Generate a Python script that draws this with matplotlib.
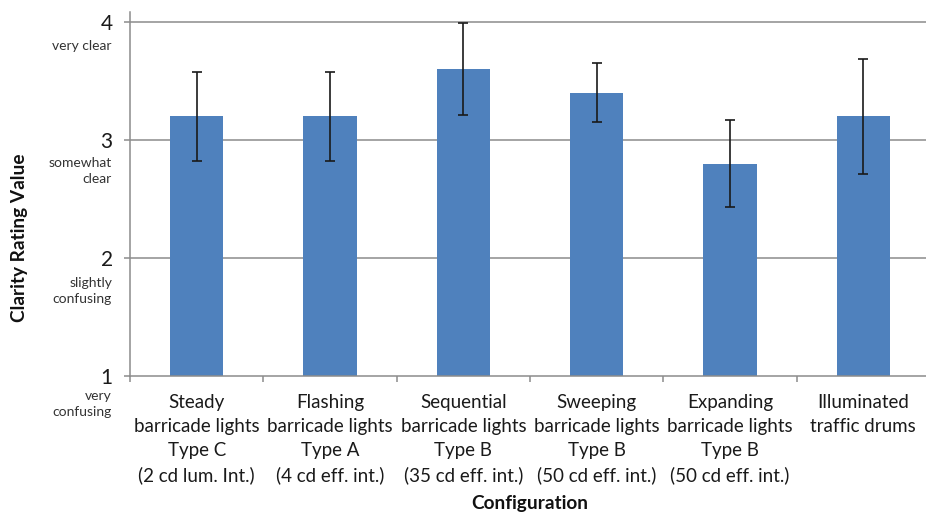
import matplotlib
matplotlib.use("Agg")
import matplotlib.pyplot as plt
import numpy as np
from matplotlib.ticker import FixedLocator

plt.rcParams['font.family'] = ['Lato', 'DejaVu Sans']

categories = [
    "Steady\nbarricade lights\nType C\n(2 cd lum. Int.)",
    "Flashing\nbarricade lights\nType A\n(4 cd eff. int.)",
    "Sequential\nbarricade lights\nType B\n(35 cd eff. int.)",
    "Sweeping\nbarricade lights\nType B\n(50 cd eff. int.)",
    "Expanding\nbarricade lights\nType B\n(50 cd eff. int.)",
    "Illuminated\ntraffic drums",
]
means = [3.2, 3.2, 3.6, 3.4, 2.8, 3.2]
errors = [0.38, 0.38, 0.39, 0.25, 0.37, 0.49]
y_ticks = [1, 2, 3, 4]
y_descriptions = ["very\nconfusing", "slightly\nconfusing", "somewhat\nclear", "very clear"]

W, H = 926, 513
fig = plt.figure(figsize=(W / 100, H / 100), dpi=100)
ax = fig.add_axes([130 / W, 1 - 376 / H, 800 / W, (376 - 12) / H])

x = np.arange(len(categories))
bar_color = "#4F81BD"
ax.bar(x, means, width=0.4, color=bar_color, zorder=2)
ax.errorbar(x, means, yerr=errors, fmt="none", ecolor="#1a1a1a",
            elinewidth=1.2, capsize=3.8, capthick=1.2, zorder=3)

ax.set_xlim(-0.5, len(categories) - 0.5)
ax.set_ylim(1, 4.085)

# horizontal gridlines
for yv in y_ticks[1:]:
    ax.axhline(yv, color="#8c8c8c", linewidth=1.1, zorder=1)

for side in ["top", "right"]:
    ax.spines[side].set_visible(False)
for side in ["left", "bottom"]:
    ax.spines[side].set_color("#8c8c8c")
    ax.spines[side].set_linewidth(1.1)

ax.set_yticks(y_ticks)
ax.set_yticklabels([str(v) for v in y_ticks], fontsize=15, color="#1a1a1a")
ax.tick_params(axis="y", direction="out", length=4.5, width=1.1, color="#8c8c8c", pad=8)

ax.set_xticks(x)
ax.set_xticklabels(categories, fontsize=13.5, color="#1a1a1a", linespacing=1.5, va="top")
ax.tick_params(axis="x", which="major", length=0, pad=13)
ax.xaxis.set_minor_locator(FixedLocator(np.arange(len(categories) + 1) - 0.5))
ax.tick_params(axis="x", which="minor", direction="out", length=4.5, width=1.1, color="#8c8c8c")

# verbal descriptions under each rating value
desc_offsets = [-28, -33, -31, -24]  # pixels below the tick
for v, txt, off in zip(y_ticks, y_descriptions, desc_offsets):
    ax.annotate(txt, xy=(0, v), xycoords=("axes fraction", "data"),
                xytext=(-18 * 0.72, off * 0.72), textcoords="offset points",
                ha="right", va="center", multialignment="right",
                fontsize=10, color="#333333", linespacing=1.35,
                annotation_clip=False)

fig.text(20 / W, 1 - 238 / H, "Clarity Rating Value", rotation=90,
         ha="center", va="center", fontsize=13.7, fontweight="bold", color="#111111")
fig.text(530 / W, 1 - 503 / H, "Configuration", ha="center", va="center",
         fontsize=13.7, fontweight="bold", color="#111111")

fig.savefig("out.png", dpi=100)
